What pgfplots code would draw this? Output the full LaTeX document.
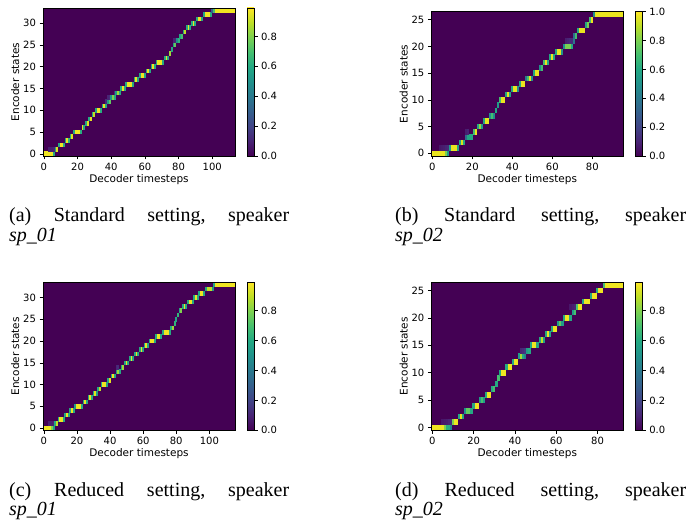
\documentclass[border=0pt]{standalone}
\usepackage{fontspec}
\setmainfont{Liberation Serif}
\newfontfamily\dv{DejaVu Sans}
\usepackage{pgfplots}
\usepackage{pgfplotstable}
\pgfplotsset{compat=1.18}
\definecolor{vir0}{RGB}{68,1,84}
\definecolor{vir1}{HTML}{482475}
\definecolor{vir2}{HTML}{414487}
\definecolor{vir3}{HTML}{355F8D}
\definecolor{vir4}{HTML}{2A788E}
\definecolor{vir5}{HTML}{21918C}
\definecolor{vir6}{HTML}{22A884}
\definecolor{vir7}{HTML}{44BF70}
\definecolor{vir8}{HTML}{7AD151}
\definecolor{vir9}{HTML}{BDDF26}
\definecolor{vir10}{HTML}{FDE725}
\pgfdeclareverticalshading{viridisbar}{100bp}{%
  color(0bp)=(vir0); color(25bp)=(vir0); color(30bp)=(vir1); color(35bp)=(vir2);
  color(40bp)=(vir3); color(45bp)=(vir4); color(50bp)=(vir5); color(55bp)=(vir6);
  color(60bp)=(vir7); color(65bp)=(vir8); color(70bp)=(vir9); color(75bp)=(vir10);
  color(100bp)=(vir10)}
\pgfplotsset{/pgf/number format/assume math mode=true}

% one heatmap cell; \ux, \uy = axis unit lengths of the current axis
\pgfdeclareplotmark{attncell}{%
  \pgfpathrectangle{\pgfpoint{-0.5*\ux-0.15pt}{-0.5*\uy-0.15pt}}{\pgfpoint{\ux+0.3pt}{\uy+0.3pt}}%
  \pgfusepathqfill}

\pgfplotsset{
  hm/.style={
    scale only axis,
    width=192pt,
    axis on top,
    enlargelimits=false,
    tick align=outside,
    tick pos=left,
    major tick length=3.5pt,
    axis line style={black, line width=0.6pt},
    tick style={black, line width=0.6pt},
    tick label style={font=\dv\fontsize{10}{12}\selectfont},
    label style={font=\dv\fontsize{10.5}{12}\selectfont},
    xlabel={Decoder timesteps},
    ylabel={Encoder states},
    xlabel style={yshift=3pt},
    ylabel style={yshift=-3pt},
    xtick={0,20,40,60,80,100},
    ytick={0,5,10,15,20,25,30},
    xmin=-0.5, ymin=-0.5,
    axis background/.style={fill=vir0},
    colormap/viridis,
    point meta min=0,
    clip marker paths=true,
  },
  cbaxis/.style={
    scale only axis, width=7pt, anchor=north west,
    xmin=0, xmax=1, ymin=0,
    xtick=\empty,
    ytick pos=right, yticklabel pos=right,
    tick align=outside,
    major tick length=3.5pt,
    axis on top,
    axis line style={black, line width=0.6pt},
    tick style={black, line width=0.6pt},
    axis background/.style={shading=viridisbar},
    yticklabel style={font=\dv\fontsize{10}{12}\selectfont,
      /pgf/number format/.cd, fixed, fixed zerofill, precision=1},
  },
}

% columns: decoder step, encoder state, attention weight
\pgfplotstableread[row sep=\\]{
t s v\\
0 0 0.97\\1 0 0.97\\2 0 0.97\\3 0 0.97\\4 0 0.97\\5 0 0.97\\6 0 0.6\\
3 1 0.08\\4 1 0.08\\5 1 0.08\\6 1 0.1\\7 1 0.6\\8 1 0.95\\
9 2 0.6\\10 2 0.97\\11 2 0.97\\12 2 0.62\\
13 3 0.6\\14 3 0.97\\15 3 0.62\\
16 4 0.6\\17 4 0.95\\
18 5 0.6\\19 5 0.97\\20 5 0.97\\21 5 0.97\\22 5 0.62\\
23 6 0.95\\24 6 0.6\\
25 7 0.6\\26 7 0.95\\
27 8 0.6\\28 8 0.95\\
29 9 0.6\\30 9 0.9\\
31 10 0.6\\32 10 0.97\\33 10 0.97\\34 10 0.62\\
35 11 0.6\\36 11 0.97\\37 11 0.6\\
37 12 0.12\\38 12 0.55\\39 12 0.75\\
38 13 0.1\\39 13 0.12\\40 13 0.5\\41 13 0.8\\42 13 0.6\\
42 14 0.12\\43 14 0.55\\44 14 0.85\\45 14 0.6\\
46 15 0.6\\47 15 0.97\\48 15 0.6\\
49 16 0.6\\50 16 0.97\\51 16 0.97\\52 16 0.97\\53 16 0.6\\
54 17 0.6\\55 17 0.97\\56 17 0.6\\
57 18 0.6\\58 18 0.97\\59 18 0.97\\60 18 0.6\\
61 19 0.6\\62 19 0.97\\63 19 0.6\\
64 20 0.6\\65 20 0.97\\66 20 0.6\\
67 21 0.6\\68 21 0.97\\69 21 0.97\\70 21 0.97\\71 21 0.6\\
72 22 0.6\\73 22 0.97\\74 22 0.6\\
75 23 0.85\\76 24 0.6\\
77 25 0.55\\78 25 0.75\\
77 26 0.1\\78 26 0.1\\79 26 0.5\\80 26 0.65\\
81 27 0.6\\82 27 0.7\\
83 28 0.6\\84 28 0.9\\
85 29 0.6\\86 29 0.97\\87 29 0.6\\
88 30 0.6\\89 30 0.97\\90 30 0.6\\
91 31 0.6\\92 31 0.97\\93 31 0.97\\94 31 0.6\\
95 32 0.6\\96 32 0.97\\97 32 0.97\\98 32 0.97\\99 32 0.62\\
100 33 0.3\\101 33 0.7\\102 33 0.97\\103 33 0.97\\104 33 0.97\\105 33 0.97\\
106 33 0.97\\107 33 0.97\\108 33 0.97\\109 33 0.97\\110 33 0.97\\111 33 0.97\\
112 33 0.97\\113 33 0.97\\
}\tabA

\pgfplotstableread[row sep=\\]{
t s v\\
0 0 0.97\\1 0 0.97\\2 0 0.97\\3 0 0.97\\4 0 0.97\\5 0 0.97\\6 0 0.97\\7 0 0.8\\8 0 0.55\\
4 1 0.06\\5 1 0.07\\6 1 0.08\\7 1 0.1\\8 1 0.12\\
9 1 0.55\\10 1 0.97\\11 1 0.97\\12 1 0.97\\13 1 0.6\\
14 2 0.6\\15 2 0.95\\16 2 0.6\\
17 3 0.35\\18 3 0.6\\19 3 0.6\\20 3 0.6\\
17 4 0.08\\18 4 0.1\\21 4 0.7\\22 4 0.97\\
23 5 0.6\\24 5 0.85\\25 5 0.55\\
26 6 0.6\\27 6 0.97\\28 6 0.97\\
29 7 0.5\\30 7 0.7\\31 7 0.5\\
32 8 0.6\\33 9 0.55\\
34 10 0.7\\35 10 0.97\\36 10 0.97\\
37 11 0.6\\38 11 0.97\\39 11 0.6\\
40 12 0.6\\41 12 0.97\\42 12 0.97\\43 12 0.5\\
44 13 0.6\\45 13 0.97\\46 13 0.97\\
47 14 0.4\\48 14 0.7\\49 14 0.97\\50 14 0.5\\
51 15 0.6\\52 15 0.97\\53 15 0.97\\
54 16 0.5\\55 16 0.7\\
56 17 0.7\\57 17 0.97\\58 17 0.6\\
59 18 0.6\\60 18 0.97\\61 18 0.6\\
62 19 0.6\\63 19 0.97\\64 19 0.97\\65 19 0.5\\
66 20 0.5\\67 20 0.8\\68 20 0.8\\69 20 0.8\\70 20 0.6\\
67 21 0.08\\68 21 0.1\\69 21 0.12\\70 21 0.12\\71 21 0.4\\
71 22 0.35\\72 22 0.7\\
73 23 0.6\\74 23 0.97\\75 23 0.97\\76 23 0.97\\
77 24 0.6\\78 24 0.8\\
79 25 0.7\\80 25 0.97\\
81 26 0.5\\82 26 0.97\\83 26 0.97\\84 26 0.97\\85 26 0.97\\86 26 0.97\\
87 26 0.97\\88 26 0.97\\89 26 0.97\\90 26 0.97\\91 26 0.97\\92 26 0.97\\
93 26 0.97\\94 26 0.97\\95 26 0.97\\
}\tabB

\pgfplotstableread[row sep=\\]{
t s v\\
0 0 0.97\\1 0 0.97\\2 0 0.97\\3 0 0.97\\4 0 0.97\\5 0 0.8\\6 0 0.55\\
3 1 0.08\\4 1 0.08\\5 1 0.08\\6 1 0.1\\7 1 0.6\\8 1 0.9\\
9 2 0.6\\10 2 0.97\\11 2 0.97\\12 2 0.6\\
13 3 0.6\\14 3 0.97\\15 3 0.6\\
16 4 0.6\\17 4 0.97\\18 4 0.6\\
19 5 0.55\\20 5 0.97\\21 5 0.97\\22 5 0.97\\23 5 0.6\\
24 6 0.6\\25 6 0.97\\26 6 0.6\\
27 7 0.6\\28 7 0.97\\29 7 0.6\\
30 8 0.6\\31 8 0.95\\32 8 0.55\\
33 9 0.6\\34 9 0.9\\
35 10 0.6\\36 10 0.97\\37 10 0.97\\38 10 0.6\\
39 11 0.6\\40 11 0.95\\
41 12 0.6\\42 12 0.97\\43 12 0.6\\
44 13 0.55\\45 13 0.85\\46 13 0.6\\
44 14 0.1\\45 14 0.12\\47 14 0.6\\48 14 0.85\\
49 15 0.6\\50 15 0.97\\51 15 0.6\\
52 16 0.6\\53 16 0.97\\54 16 0.6\\
55 17 0.6\\56 17 0.97\\57 17 0.6\\
58 18 0.6\\59 18 0.97\\60 18 0.6\\
61 19 0.6\\62 19 0.97\\63 19 0.6\\
64 20 0.6\\65 20 0.97\\66 20 0.97\\67 20 0.6\\
68 21 0.6\\69 21 0.97\\70 21 0.97\\71 21 0.6\\
72 22 0.6\\73 22 0.97\\74 22 0.97\\75 22 0.97\\76 22 0.6\\
77 23 0.6\\78 23 0.85\\
79 24 0.65\\80 25 0.6\\81 26 0.65\\
82 27 0.6\\83 27 0.8\\
84 28 0.6\\85 28 0.97\\86 28 0.6\\
87 29 0.6\\88 29 0.97\\89 29 0.97\\90 29 0.6\\
91 30 0.6\\92 30 0.97\\93 30 0.6\\
94 31 0.6\\95 31 0.97\\96 31 0.97\\97 31 0.6\\
98 32 0.6\\99 32 0.9\\100 32 0.9\\101 32 0.9\\102 32 0.55\\
103 33 0.6\\104 33 0.97\\105 33 0.97\\106 33 0.97\\107 33 0.97\\108 33 0.97\\
109 33 0.97\\110 33 0.97\\111 33 0.97\\112 33 0.97\\113 33 0.97\\114 33 0.97\\
115 33 0.97\\
}\tabC

\pgfplotstableread[row sep=\\]{
t s v\\
0 0 0.97\\1 0 0.97\\2 0 0.97\\3 0 0.97\\4 0 0.97\\5 0 0.97\\6 0 0.8\\7 0 0.62\\
8 0 0.62\\9 0 0.45\\
5 1 0.06\\6 1 0.07\\7 1 0.08\\8 1 0.1\\9 1 0.12\\
10 1 0.8\\11 1 0.97\\12 1 0.97\\
13 2 0.6\\14 2 0.95\\15 2 0.6\\
16 3 0.5\\17 3 0.75\\18 3 0.75\\19 3 0.6\\
20 4 0.6\\21 4 0.97\\22 4 0.97\\
23 5 0.55\\24 5 0.7\\25 5 0.55\\
26 6 0.6\\27 6 0.97\\28 6 0.97\\
29 7 0.6\\30 7 0.7\\
31 8 0.6\\32 9 0.7\\
33 10 0.6\\34 10 0.97\\35 10 0.97\\
36 11 0.6\\37 11 0.97\\38 11 0.97\\
39 12 0.6\\40 12 0.97\\41 12 0.97\\
42 13 0.55\\43 13 0.85\\44 13 0.6\\45 13 0.45\\
43 14 0.1\\44 14 0.12\\45 14 0.15\\46 14 0.55\\47 14 0.6\\
48 15 0.6\\49 15 0.97\\50 15 0.97\\51 15 0.6\\
52 16 0.6\\53 16 0.9\\54 16 0.55\\
55 17 0.6\\56 17 0.97\\57 17 0.6\\
58 18 0.6\\59 18 0.97\\60 18 0.97\\
61 19 0.55\\62 19 0.75\\63 19 0.55\\
64 20 0.6\\65 20 0.97\\66 20 0.97\\67 20 0.6\\
68 21 0.55\\69 21 0.7\\
67 22 0.06\\68 22 0.08\\69 22 0.1\\
70 22 0.7\\71 22 0.97\\72 22 0.97\\
73 23 0.6\\74 23 0.97\\75 23 0.97\\76 23 0.97\\
77 24 0.6\\78 24 0.97\\79 24 0.97\\
80 25 0.6\\81 25 0.97\\82 25 0.97\\
83 26 0.7\\84 26 0.97\\85 26 0.97\\86 26 0.97\\87 26 0.97\\88 26 0.97\\
89 26 0.97\\90 26 0.97\\91 26 0.97\\92 26 0.97\\
}\tabD

\begin{document}
\begin{tikzpicture}
\useasboundingbox (0,0) rectangle (692pt,525pt);

% (a)
\def\ux{1.6842pt}\def\uy{4.353pt}
\begin{axis}[hm, at={(43pt,369pt)}, anchor=south west, height=148pt,
  xmax=113.5, ymax=33.5, point meta max=0.99]
\addplot[scatter, only marks, mark=attncell, point meta=explicit,
  scatter/use mapped color={draw=none, fill=mapped color}]
  table[x=t, y=s, meta=v] {\tabA};
\end{axis}
\begin{axis}[cbaxis, at={(247pt,517pt)}, height=148pt, ymax=0.99,
  ytick={0,0.2,0.4,0.6,0.8}]
\end{axis}

% (b)
\def\ux{2.0pt}\def\uy{5.344pt}
\begin{axis}[hm, at={(431.3pt,369pt)}, anchor=south west, height=144.3pt,
  xmax=95.5, ymax=26.5, point meta max=1]
\addplot[scatter, only marks, mark=attncell, point meta=explicit,
  scatter/use mapped color={draw=none, fill=mapped color}]
  table[x=t, y=s, meta=v] {\tabB};
\end{axis}
\begin{axis}[cbaxis, at={(635.3pt,513.3pt)}, height=144.3pt, ymax=1,
  ytick={0,0.2,0.4,0.6,0.8,1.0}]
\end{axis}

% (c)
\def\ux{1.6578pt}\def\uy{4.353pt}
\begin{axis}[hm, at={(43pt,94.7pt)}, anchor=south west, height=148pt,
  xmax=115.5, ymax=33.5, point meta max=0.99]
\addplot[scatter, only marks, mark=attncell, point meta=explicit,
  scatter/use mapped color={draw=none, fill=mapped color}]
  table[x=t, y=s, meta=v] {\tabC};
\end{axis}
\begin{axis}[cbaxis, at={(247pt,242.7pt)}, height=148pt, ymax=0.99,
  ytick={0,0.2,0.4,0.6,0.8}]
\end{axis}

% (d)
\def\ux{2.0645pt}\def\uy{5.481pt}
\begin{axis}[hm, at={(431.3pt,94.7pt)}, anchor=south west, height=148pt,
  xmax=92.5, ymax=26.5, point meta max=0.99]
\addplot[scatter, only marks, mark=attncell, point meta=explicit,
  scatter/use mapped color={draw=none, fill=mapped color}]
  table[x=t, y=s, meta=v] {\tabD};
\end{axis}
\begin{axis}[cbaxis, at={(635.3pt,242.7pt)}, height=148pt, ymax=0.99,
  ytick={0,0.2,0.4,0.6,0.8}]
\end{axis}

% captions
\begin{scope}[every node/.style={anchor=base west, inner sep=0pt,
    font=\fontsize{20}{20}\selectfont}]
\node at (9pt,303pt) {\hbox to 280pt{(a)\hfill Standard\hfill setting,\hfill speaker}};
\node at (9pt,283pt) {\textit{sp\_01}};
\node at (395pt,303pt) {\hbox to 291pt{(b)\hfill Standard\hfill setting,\hfill speaker}};
\node at (395pt,283pt) {\textit{sp\_02}};
\node at (9pt,29pt) {\hbox to 280pt{(c)\hfill Reduced\hfill setting,\hfill speaker}};
\node at (9pt,10pt) {\textit{sp\_01}};
\node at (395pt,29pt) {\hbox to 291pt{(d)\hfill Reduced\hfill setting,\hfill speaker}};
\node at (395pt,10pt) {\textit{sp\_02}};
\end{scope}
\end{tikzpicture}
\end{document}
